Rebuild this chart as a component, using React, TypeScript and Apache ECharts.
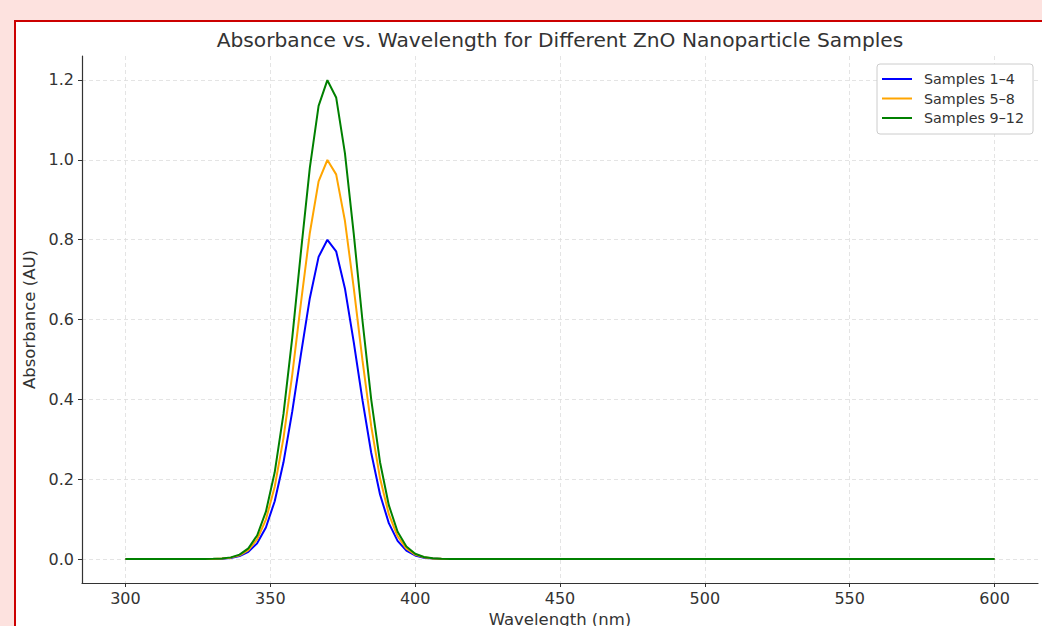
import React, { useEffect, useRef } from "react";
import * as echarts from "echarts";

const wavelengths = [
  300.0, 303.03, 306.06, 309.09, 312.12, 315.15, 318.18, 321.21, 324.24, 327.27,
  330.3, 333.33, 336.36, 339.39, 342.42, 345.45, 348.48, 351.52, 354.55, 357.58,
  360.61, 363.64, 366.67, 369.7, 372.73, 375.76, 378.79, 381.82, 384.85, 387.88,
  390.91, 393.94, 396.97, 400.0, 403.03, 406.06, 409.09, 412.12, 415.15, 418.18,
  421.21, 424.24, 427.27, 430.3, 433.33, 436.36, 439.39, 442.42, 445.45, 448.48,
  451.52, 454.55, 457.58, 460.61, 463.64, 466.67, 469.7, 472.73, 475.76, 478.79,
  481.82, 484.85, 487.88, 490.91, 493.94, 496.97, 500.0, 503.03, 506.06, 509.09,
  512.12, 515.15, 518.18, 521.21, 524.24, 527.27, 530.3, 533.33, 536.36, 539.39,
  542.42, 545.45, 548.48, 551.52, 554.55, 557.58, 560.61, 563.64, 566.67, 569.7,
  572.73, 575.76, 578.79, 581.82, 584.85, 587.88, 590.91, 593.94, 596.97, 600.0,
];

const samples1to4 = [
  0, 0, 0, 0, 0, 0, 0, 0, 0, 0.0001,
  0.0003, 0.001, 0.0028, 0.0074, 0.0179, 0.0393, 0.079, 0.1449, 0.2423, 0.3698,
  0.5146, 0.6534, 0.7568, 0.7996, 0.7708, 0.6778, 0.5438, 0.3979, 0.2657, 0.1618,
  0.0899, 0.0456, 0.0211, 0.0089, 0.0034, 0.0012, 0.0004, 0, 0, 0,
  0, 0, 0, 0, 0, 0, 0, 0, 0, 0,
  0, 0, 0, 0, 0, 0, 0, 0, 0, 0,
  0, 0, 0, 0, 0, 0, 0, 0, 0, 0,
  0, 0, 0, 0, 0, 0, 0, 0, 0, 0,
  0, 0, 0, 0, 0, 0, 0, 0, 0, 0,
  0, 0, 0, 0, 0, 0, 0, 0, 0, 0,
];

const samples5to8 = [
  0, 0, 0, 0, 0, 0, 0, 0, 0, 0.0001,
  0.0004, 0.0012, 0.0035, 0.0092, 0.0223, 0.0492, 0.0988, 0.1811, 0.3029, 0.4622,
  0.6433, 0.8167, 0.946, 0.9995, 0.9635, 0.8472, 0.6797, 0.4974, 0.3321, 0.2022,
  0.1124, 0.057, 0.0263, 0.0111, 0.0043, 0.0015, 0.0005, 0, 0, 0,
  0, 0, 0, 0, 0, 0, 0, 0, 0, 0,
  0, 0, 0, 0, 0, 0, 0, 0, 0, 0,
  0, 0, 0, 0, 0, 0, 0, 0, 0, 0,
  0, 0, 0, 0, 0, 0, 0, 0, 0, 0,
  0, 0, 0, 0, 0, 0, 0, 0, 0, 0,
  0, 0, 0, 0, 0, 0, 0, 0, 0, 0,
];

const samples9to12 = [
  0, 0, 0, 0, 0, 0, 0, 0, 0, 0.0001,
  0.0005, 0.0014, 0.0042, 0.0111, 0.0268, 0.059, 0.1186, 0.2173, 0.3635, 0.5546,
  0.772, 0.98, 1.1352, 1.1994, 1.1562, 1.0166, 0.8156, 0.5969, 0.3985, 0.2426,
  0.1349, 0.0683, 0.0316, 0.0133, 0.0051, 0.0018, 0.0006, 0, 0, 0,
  0, 0, 0, 0, 0, 0, 0, 0, 0, 0,
  0, 0, 0, 0, 0, 0, 0, 0, 0, 0,
  0, 0, 0, 0, 0, 0, 0, 0, 0, 0,
  0, 0, 0, 0, 0, 0, 0, 0, 0, 0,
  0, 0, 0, 0, 0, 0, 0, 0, 0, 0,
  0, 0, 0, 0, 0, 0, 0, 0, 0, 0,
];

const seriesNames = ["Samples 1–4", "Samples 5–8", "Samples 9–12"];
const seriesColors = ["#0000ff", "#ffa500", "#008000"];
const xTicks = [300, 350, 400, 450, 500, 550, 600];
const yTicks = [0, 0.2, 0.4, 0.6, 0.8, 1.0, 1.2];

const FONT = "DejaVu Sans";

export default function App() {
  const ref = useRef<HTMLDivElement>(null);

  useEffect(() => {
    if (!ref.current) return;
    const chart = echarts.init(ref.current, undefined, { renderer: "svg" });
    const allValues = [samples1to4, samples5to8, samples9to12];
    const gridLine = { show: true, lineStyle: { color: "#dddddd", width: 0.8, type: [4, 3] as any } };
    const axisLine = { show: true, onZero: false, lineStyle: { color: "#333333", width: 1.2 } };
    chart.setOption({
      animation: false,
      backgroundColor: "transparent",
      title: {
        text: "Absorbance vs. Wavelength for Different ZnO Nanoparticle Samples",
        left: 560,
        top: 30,
        textAlign: "center",
        padding: 0,
        textStyle: { fontFamily: FONT, fontSize: 20.2, fontWeight: "normal", color: "#333333" },
      },
      legend: {
        left: 877,
        top: 64,
        orient: "vertical",
        icon: "rect",
        itemWidth: 30,
        itemHeight: 2,
        itemGap: 3.5,
        padding: [7, 9, 8, 5],
        borderColor: "#cccccc",
        borderWidth: 1,
        borderRadius: 3,
        backgroundColor: "#ffffff",
        textStyle: { fontFamily: FONT, fontSize: 14.3, color: "#333333", lineHeight: 16, padding: [0, 0, 0, 7] },
        data: seriesNames,
      },
      grid: { left: 82, right: 4, top: 56, bottom: 43, containLabel: false, outerBoundsMode: "none" },
      xAxis: {
        type: "value",
        min: 285,
        max: 615,
        name: "Wavelength (nm)",
        nameLocation: "middle",
        nameGap: 27,
        nameTextStyle: { fontFamily: FONT, fontSize: 16.5, color: "#333333" },
        axisLine,
        axisTick: { show: true, length: 4, lineStyle: { color: "#333333" }, customValues: xTicks },
        axisLabel: {
          fontFamily: FONT, fontSize: 16, color: "#333333", margin: 7,
          customValues: xTicks,
          formatter: (v: number) => String(v),
        },
        splitLine: gridLine,
      },
      yAxis: {
        type: "value",
        min: -0.06,
        max: 1.26,
        name: "Absorbance (AU)",
        nameLocation: "middle",
        nameGap: 35,
        nameTextStyle: { fontFamily: FONT, fontSize: 16.5, color: "#333333" },
        axisLine,
        axisTick: { show: true, length: 4, lineStyle: { color: "#333333" }, customValues: yTicks },
        axisLabel: {
          fontFamily: FONT, fontSize: 16, color: "#333333", margin: 8,
          customValues: yTicks,
          formatter: (v: number) => v.toFixed(1),
        },
        splitLine: gridLine,
      },
      series: seriesNames.map((name, i) => ({
        name,
        type: "line",
        symbol: "none",
        showSymbol: false,
        color: seriesColors[i],
        lineStyle: { color: seriesColors[i], width: 2 },
        data: wavelengths.map((w, j) => [w, allValues[i][j]]),
        z: 2 + i,
      })),
    });
    return () => chart.dispose();
  }, []);

  return (
    <div style={{ position: "fixed", left: 0, top: 0, width: 1042, height: 626, background: "#fde2df", overflow: "hidden" }}>
      <div style={{ position: "absolute", left: 14, top: 20, width: 1100, height: 700, boxSizing: "border-box", border: "2px solid #cc0000", background: "#ffffff" }} />
      <div ref={ref} style={{ position: "absolute", left: 0, top: 0, width: 1042, height: 626 }} />
    </div>
  );
}
